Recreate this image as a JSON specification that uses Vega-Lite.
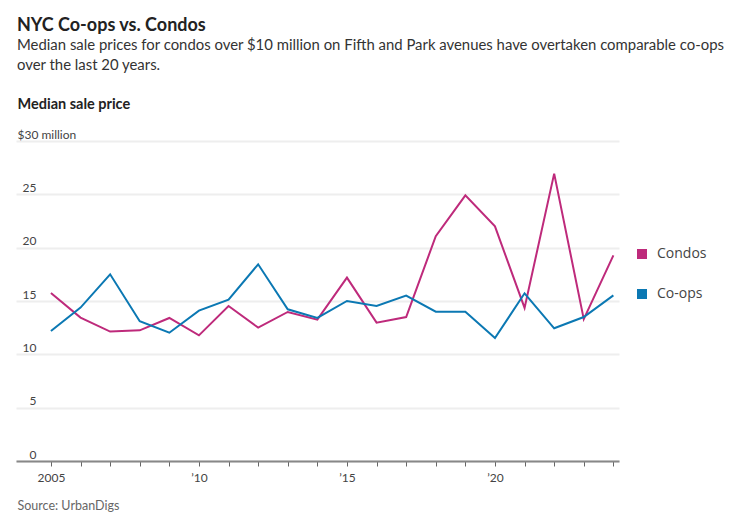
{
  "$schema": "https://vega.github.io/schema/vega-lite/v6.json",
  "width": 603,
  "height": 320,
  "autosize": {"type": "none"},
  "padding": {"left": 16, "top": 141, "right": 111, "bottom": 63},
  "title": {
    "text": "NYC Co-ops vs. Condos",
    "subtitle": ["Median sale prices for condos over $10 million on Fifth and Park avenues have overtaken comparable co-ops", "over the last 20 years."],
    "anchor": "start",
    "frame": "group",
    "offset": 23,
    "font": "Lato",
    "fontSize": 18,
    "fontWeight": "bold",
    "color": "#222222",
    "subtitleFont": "Lato",
    "subtitleFontSize": 14.9,
    "subtitleColor": "#333333",
    "subtitleLineHeight": 20,
    "subtitlePadding": 3,
    "dx": 1
  },
  "data": {
    "values": [
      {"year": 2005, "type": "Condos", "price": 15.75},
      {"year": 2006, "type": "Condos", "price": 13.44},
      {"year": 2007, "type": "Condos", "price": 12.13},
      {"year": 2008, "type": "Condos", "price": 12.25},
      {"year": 2009, "type": "Condos", "price": 13.41},
      {"year": 2010, "type": "Condos", "price": 11.78},
      {"year": 2011, "type": "Condos", "price": 14.53},
      {"year": 2012, "type": "Condos", "price": 12.5},
      {"year": 2013, "type": "Condos", "price": 13.97},
      {"year": 2014, "type": "Condos", "price": 13.25},
      {"year": 2015, "type": "Condos", "price": 17.19},
      {"year": 2016, "type": "Condos", "price": 12.97},
      {"year": 2017, "type": "Condos", "price": 13.5},
      {"year": 2018, "type": "Condos", "price": 21.07},
      {"year": 2019, "type": "Condos", "price": 24.9},
      {"year": 2020, "type": "Condos", "price": 22.0},
      {"year": 2021, "type": "Condos", "price": 14.35},
      {"year": 2022, "type": "Condos", "price": 26.94},
      {"year": 2023, "type": "Condos", "price": 13.3},
      {"year": 2024, "type": "Condos", "price": 19.28},
      {"year": 2005, "type": "Co-ops", "price": 12.19},
      {"year": 2006, "type": "Co-ops", "price": 14.38},
      {"year": 2007, "type": "Co-ops", "price": 17.5},
      {"year": 2008, "type": "Co-ops", "price": 13.1},
      {"year": 2009, "type": "Co-ops", "price": 12.03},
      {"year": 2010, "type": "Co-ops", "price": 14.1},
      {"year": 2011, "type": "Co-ops", "price": 15.13},
      {"year": 2012, "type": "Co-ops", "price": 18.44},
      {"year": 2013, "type": "Co-ops", "price": 14.22},
      {"year": 2014, "type": "Co-ops", "price": 13.41},
      {"year": 2015, "type": "Co-ops", "price": 15.0},
      {"year": 2016, "type": "Co-ops", "price": 14.53},
      {"year": 2017, "type": "Co-ops", "price": 15.5},
      {"year": 2018, "type": "Co-ops", "price": 14.0},
      {"year": 2019, "type": "Co-ops", "price": 14.0},
      {"year": 2020, "type": "Co-ops", "price": 11.53},
      {"year": 2021, "type": "Co-ops", "price": 15.72},
      {"year": 2022, "type": "Co-ops", "price": 12.44},
      {"year": 2023, "type": "Co-ops", "price": 13.5},
      {"year": 2024, "type": "Co-ops", "price": 15.53}
    ]
  },
  "mark": {"type": "line", "strokeWidth": 2, "clip": false},
  "encoding": {
    "x": {
      "field": "year",
      "type": "quantitative",
      "scale": {"domain": [2003.82, 2024.19], "nice": false, "zero": false},
      "axis": {
        "values": [2005, 2006, 2007, 2008, 2009, 2010, 2011, 2012, 2013, 2014, 2015, 2016, 2017, 2018, 2019, 2020, 2021, 2022, 2023, 2024],
        "labelExpr": "datum.value == 2005 ? '2005' : datum.value == 2010 ? '’10' : datum.value == 2015 ? '’15' : datum.value == 2020 ? '’20' : ''",
        "grid": false,
        "domainColor": "#888888",
        "domainWidth": 2,
        "tickColor": "#666666",
        "tickSize": 5,
        "tickWidth": 1,
        "labelFont": "Lato",
        "labelFontSize": 12,
        "labelColor": "#444444",
        "labelPadding": 6,
        "labelFlush": false,
        "labelOverlap": false,
        "title": "Source: UrbanDigs",
        "titleFont": "Lato",
        "titleFontSize": 12.5,
        "titleFontWeight": "normal",
        "titleColor": "#666666",
        "titleAnchor": "start",
        "titleAlign": "left",
        "titleBaseline": "alphabetic",
        "titleX": 1,
        "titleY": 48
      }
    },
    "y": {
      "field": "price",
      "type": "quantitative",
      "scale": {"domain": [0, 30], "nice": false},
      "axis": {
        "values": [0, 5, 10, 15, 20, 25, 30],
        "labelExpr": "datum.value == 30 ? '$30 million' : datum.label",
        "domain": false,
        "ticks": false,
        "tickSize": 0,
        "grid": true,
        "gridColor": "#eeeeee",
        "gridWidth": 2,
        "labelFont": "Lato",
        "labelFontSize": 12,
        "labelColor": "#444444",
        "labelAlign": {"condition": {"test": "datum.value == 30", "value": "left"}, "value": "right"},
        "labelPadding": {"condition": {"test": "datum.value == 30", "value": -1}, "value": -20},
        "labelBaseline": "alphabetic",
        "labelOffset": -3,
        "title": "Median sale price",
        "titleFont": "Lato",
        "titleFontSize": 14.5,
        "titleFontWeight": "bold",
        "titleColor": "#222222",
        "titleAngle": 0,
        "titleAlign": "left",
        "titleBaseline": "alphabetic",
        "titleX": 1,
        "titleY": -33
      }
    },
    "color": {
      "field": "type",
      "type": "nominal",
      "sort": ["Condos", "Co-ops"],
      "scale": {"domain": ["Condos", "Co-ops"], "range": ["#be2a7b", "#0b78b3"]},
      "legend": {
        "title": null,
        "orient": "none",
        "legendX": 619,
        "legendY": 106,
        "symbolType": "square",
        "symbolSize": 100,
        "labelFont": "Open Sans",
        "labelFontSize": 14,
        "labelColor": "#444444",
        "labelOffset": 8,
        "rowPadding": 26,
        "encode": {
          "symbols": {
            "update": {
              "fill": {"scale": "color", "field": "value"},
              "strokeWidth": {"value": 0}
            }
          }
        }
      }
    }
  },
  "config": {
    "view": {"stroke": null},
    "background": "white"
  }
}
